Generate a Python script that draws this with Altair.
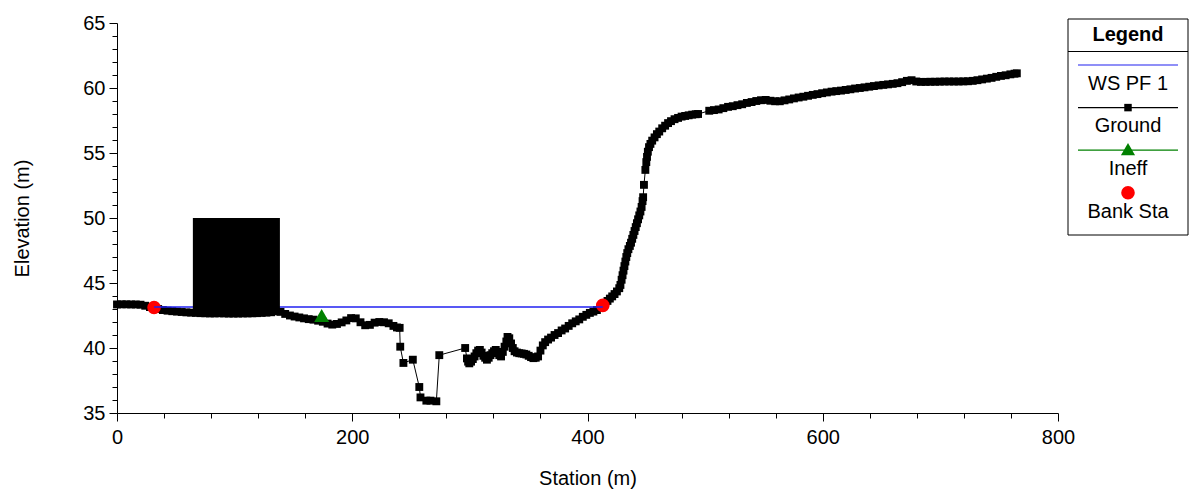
import altair as alt
import pandas as pd

# ---------------- data ----------------
# ground profile (station m, elevation m), split into visually distinct stretches
GROUND_LEFT = [
    (0, 43.35), (4, 43.36), (8, 43.36), (12, 43.35), (16, 43.35), (20, 43.33), (24, 43.25),
    (28, 43.15), (31.5, 43.1), (35, 43.0), (39, 42.92), (43, 42.87), (47, 42.83), (51, 42.8),
    (55, 42.77), (59, 42.74), (63, 42.72), (67, 42.7), (71, 42.68), (75, 42.67), (79, 42.66),
    (83, 42.66), (87, 42.67), (91, 42.66), (95, 42.65), (99, 42.65), (103, 42.65), (107, 42.66),
    (111, 42.66), (115, 42.67), (119, 42.68), (123, 42.7), (127, 42.72), (131, 42.75),
    (135, 42.82), (139, 42.78), (143, 42.62), (147, 42.5), (151, 42.42), (155, 42.35),
    (159, 42.28), (163, 42.22), (167, 42.18), (171, 42.1), (175, 42.02), (179, 41.88),
    (183, 41.8), (187, 41.85), (191, 41.97), (195, 42.12), (199, 42.3), (203, 42.28),
    (207, 41.98), (211, 41.75), (215, 41.78), (219, 41.95), (223, 42.0), (227, 41.98),
    (231, 41.9), (235, 41.7), (238, 41.58), (240.3, 41.55),
]
GROUND_CHANNEL = [
    (240.8, 40.1), (243.5, 38.85), (251.5, 39.1), (257, 37.0), (258, 36.2), (263, 35.95),
    (266.5, 35.95), (271.5, 35.9), (274, 39.45), (296, 40.0),
]
GROUND_MID = [
    (297.5, 39.2), (298.5, 38.95), (299.5, 38.82), (301, 38.95), (302.5, 39.15), (304, 39.35),
    (305.5, 39.6), (307, 39.8), (308.5, 39.85), (310, 39.65), (311.5, 39.4), (313, 39.25),
    (314.5, 39.1), (316, 39.25), (317.5, 39.45), (319, 39.6), (320.5, 39.75), (322, 39.85),
    (323.5, 39.7), (325, 39.45), (326.5, 39.35), (328, 39.7), (329.5, 40.1), (331, 40.5),
    (332, 40.85), (333.5, 40.75), (335, 40.35), (336.5, 40.0), (338, 39.75), (340, 39.65),
    (342, 39.6), (344, 39.58), (346, 39.55), (348, 39.5), (350, 39.4), (352, 39.3),
    (354, 39.22), (356, 39.25), (358, 39.35), (360, 39.8), (362, 40.2), (364, 40.45),
    (366.5, 40.65), (369, 40.8), (372, 41.0), (375, 41.15), (378, 41.35), (381, 41.5),
    (384, 41.7), (387, 41.9), (390, 42.05), (393, 42.2), (396, 42.4), (399, 42.55),
    (402, 42.7), (405, 42.8), (408, 42.92), (411, 43.1), (413, 43.28),
]
GROUND_STEEP = [
    (415, 43.45), (417, 43.62), (419, 43.8), (421, 43.97), (423, 44.15), (425, 44.35),
    (427, 44.6), (428, 44.85), (429, 45.25), (429.8, 45.6), (430.6, 45.95), (431.4, 46.3),
    (432.2, 46.65), (433, 47.0), (433.8, 47.3), (434.8, 47.6), (436, 47.85), (437, 48.1),
    (438, 48.4), (439, 48.7), (440, 49.0), (441, 49.3), (442, 49.6), (443, 49.9), (444, 50.2),
    (445, 50.5), (446, 50.85), (446.8, 51.3), (447.3, 51.6), (448, 52.55), (449.2, 53.7),
    (450, 54.3), (450.6, 54.7), (451.3, 55.1), (452.3, 55.45), (453.5, 55.7), (455, 55.95),
    (457, 56.2), (459, 56.45), (461, 56.65), (463.5, 56.9), (466, 57.1), (468.5, 57.3),
    (471, 57.45), (474, 57.6), (477, 57.7), (480, 57.8), (483, 57.85), (486, 57.9),
    (489, 57.95), (492, 57.98), (494, 58.0),
]
GROUND_RIGHT = [
    (503.5, 58.25), (507.5, 58.3), (511.5, 58.35), (515.5, 58.45), (519.5, 58.55),
    (523.5, 58.6), (527.5, 58.68), (531.5, 58.75), (535.5, 58.85), (539.5, 58.92),
    (543.5, 59.0), (547.5, 59.06), (551.5, 59.08), (555.5, 59.02), (559.5, 58.98),
    (563.5, 58.98), (567.5, 59.05), (571.5, 59.12), (575.5, 59.2), (579.5, 59.27),
    (583.5, 59.33), (587.5, 59.4), (591.5, 59.47), (595.5, 59.53), (599.5, 59.6),
    (603.5, 59.66), (607.5, 59.72), (611.5, 59.76), (615.5, 59.8), (619.5, 59.85),
    (623.5, 59.9), (627.5, 59.96), (631.5, 60.0), (635.5, 60.05), (639.5, 60.1),
    (643.5, 60.15), (647.5, 60.2), (651.5, 60.24), (655.5, 60.28), (659.5, 60.32),
    (663.5, 60.37), (667.5, 60.45), (671.5, 60.55), (675.5, 60.6), (679.5, 60.5),
    (683.5, 60.47), (687.5, 60.47), (691.5, 60.48), (695.5, 60.48), (699.5, 60.49),
    (703.5, 60.5), (707.5, 60.5), (711.5, 60.5), (715.5, 60.5), (719.5, 60.51),
    (723.5, 60.52), (727.5, 60.55), (731.5, 60.6), (735.5, 60.66), (739.5, 60.72),
    (743.5, 60.78), (747.5, 60.86), (751.5, 60.93), (755.5, 60.98), (759.5, 61.05),
    (763, 61.1), (765, 61.13),
]

BLDG_STATION = [64.5, 138.5]
BLDG_ELEV = [42.65, 50.0]

WS_STATION = [31.5, 413.0]
WS_ELEV = [43.15, 43.15]

INEFF_STATION = [174.0]
INEFF_ELEV = [42.5]

BANK_STATION = [31.5, 413.0]
BANK_ELEV = [43.12, 43.28]

LEGEND_LABELS = ["WS PF 1", "Ground", "Ineff", "Bank Sta"]

X_TICKS = list(range(0, 801, 40))
Y_TICKS = list(range(35, 66, 1))

# ---------------- styling ----------------
FONT = "Liberation Sans"
FS = 20
W, H = 941, 390
BLUE = "#2020f0"
GREEN = "#008000"
RED = "#ff0000"
SQ = 62

ground = GROUND_LEFT + GROUND_CHANNEL + GROUND_MID + GROUND_STEEP + GROUND_RIGHT
ground_df = pd.DataFrame(ground, columns=["station", "elev"])
bldg_df = pd.DataFrame({"x1": [BLDG_STATION[0]], "x2": [BLDG_STATION[1]],
                        "y1": [BLDG_ELEV[0]], "y2": [BLDG_ELEV[1]]})
ws_df = pd.DataFrame({"station": WS_STATION, "elev": WS_ELEV})
ineff_df = pd.DataFrame({"station": INEFF_STATION, "elev": INEFF_ELEV})
bank_df = pd.DataFrame({"station": BANK_STATION, "elev": BANK_ELEV})

xscale = alt.Scale(domain=[0, 800], nice=False, zero=False)
yscale = alt.Scale(domain=[35, 65], nice=False, zero=False)

xaxis = alt.Axis(
    values=X_TICKS, title="Station (m)", grid=False,
    labelExpr="datum.value % 200 === 0 ? datum.label : ''",
    tickSize={"condition": {"test": "datum.value % 200 === 0", "value": 8}, "value": 5},
    labelPadding=6, titlePadding=21, labelFlush=False, labelOverlap=False,
)
yaxis = alt.Axis(
    values=Y_TICKS, title="Elevation (m)", grid=False,
    labelExpr="datum.value % 5 === 0 ? datum.label : ''",
    tickSize={"condition": {"test": "datum.value % 5 === 0", "value": 8}, "value": 5},
    labelPadding=4, titlePadding=50, labelFlush=False, labelOverlap=False,
)

X = alt.X("station:Q", scale=xscale, axis=xaxis)
Y = alt.Y("elev:Q", scale=yscale, axis=yaxis)

ground_line = alt.Chart(ground_df).mark_line(color="black", strokeWidth=1).encode(
    x=X, y=Y, order="station:Q")
ground_pts = alt.Chart(ground_df).mark_point(
    shape="square", filled=True, size=SQ, color="black", opacity=1).encode(x=X, y=Y)
bank = alt.Chart(bank_df).mark_point(
    shape="circle", filled=True, size=185, color=RED, opacity=1).encode(x=X, y=Y)
ws = alt.Chart(ws_df).mark_line(color=BLUE, strokeWidth=1.5).encode(x=X, y=Y)
bldg = alt.Chart(bldg_df).mark_rect(color="black").encode(
    x=alt.X("x1:Q", scale=xscale, axis=xaxis), x2="x2:Q",
    y=alt.Y("y1:Q", scale=yscale, axis=yaxis), y2="y2:Q")
ineff = alt.Chart(ineff_df).mark_point(
    shape="triangle-up", filled=True, size=225, color=GREEN, opacity=1).encode(x=X, y=Y)

# ---------------- custom legend (drawn right of the plot) ----------------
one = pd.DataFrame({"k": [0]})
LX0, LX1 = 951, 1071
LCX = (LX0 + LX1) / 2
LY0, LY1 = -4, 212
legend_layers = []
legend_layers.append(alt.Chart(one).mark_rect(fill="white", stroke="black", strokeWidth=1).encode(
    x=alt.value(LX0), x2=alt.value(LX1), y=alt.value(LY0), y2=alt.value(LY1)))
legend_layers.append(alt.Chart(one).mark_text(
    font=FONT, fontSize=FS, fontWeight="bold", color="black", baseline="middle", align="center").encode(
    x=alt.value(LCX), y=alt.value(12), text=alt.value("Legend")))
legend_layers.append(alt.Chart(one).mark_rule(color="black", strokeWidth=1).encode(
    x=alt.value(LX0), x2=alt.value(LX1), y=alt.value(28.5)))
sym_colors = [BLUE, "black", GREEN, None]
for i, lab in enumerate(LEGEND_LABELS):
    sy = 42 + 42.6 * i
    ty = 60.5 + 42.7 * i
    if sym_colors[i] is not None:
        legend_layers.append(alt.Chart(one).mark_rule(color=sym_colors[i], strokeWidth=1.2).encode(
            x=alt.value(LX0 + 10), x2=alt.value(LX1 - 10), y=alt.value(sy)))
    if i == 1:
        legend_layers.append(alt.Chart(one).mark_point(
            shape="square", filled=True, size=56, color="black", opacity=1).encode(
            x=alt.value(LCX), y=alt.value(sy)))
    if i == 2:
        legend_layers.append(alt.Chart(one).mark_point(
            shape="triangle-up", filled=True, size=200, color=GREEN, opacity=1).encode(
            x=alt.value(LCX), y=alt.value(sy - 1)))
    if i == 3:
        legend_layers.append(alt.Chart(one).mark_point(
            shape="circle", filled=True, size=185, color=RED, opacity=1).encode(
            x=alt.value(LCX), y=alt.value(sy)))
    legend_layers.append(alt.Chart(one).mark_text(
        font=FONT, fontSize=FS, color="black", baseline="middle", align="center").encode(
        x=alt.value(LCX), y=alt.value(ty), text=alt.value(lab)))

chart = alt.layer(
    ground_line, ground_pts, bank, ws, bldg, ineff, *legend_layers
).properties(
    width=W, height=H,
    autosize=alt.AutoSizeParams(type="none"),
    padding={"left": 109, "top": 15, "right": 131, "bottom": 76},
    background="white",
).configure_view(stroke=None).configure_axis(
    labelFont=FONT, titleFont=FONT, labelFontSize=FS, titleFontSize=FS,
    labelColor="black", titleColor="black", domainColor="black", tickColor="black",
    titleFontWeight="normal", domainWidth=1, tickWidth=1,
)

chart.save("out.html", embed_options={"renderer": "svg", "actions": False})
